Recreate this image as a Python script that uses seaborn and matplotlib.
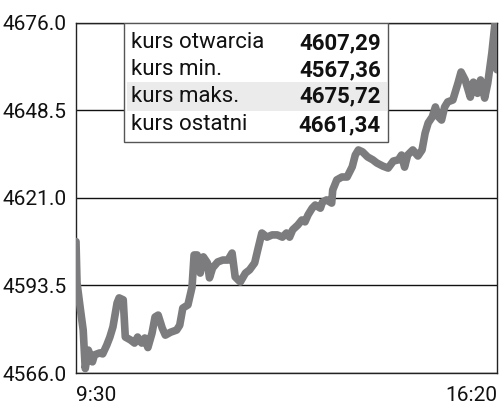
import numpy as np
import pandas as pd
import matplotlib
matplotlib.use('Agg')
import matplotlib.pyplot as plt
import seaborn as sns
from matplotlib.patches import Rectangle

# minutes after 9:30 and index value
minutes = [0, 1, 4, 7, 9, 12, 16, 18, 23, 26, 30, 33, 36, 40, 42, 46, 48, 53, 57, 60,
           64, 67, 70, 74, 77, 80, 84, 87, 92, 98, 101, 104, 109, 113, 115, 118, 121, 124,
           128, 130, 133, 138, 143, 148, 152, 155, 160, 165, 169, 174, 177, 181, 186, 191,
           196, 201, 205, 208, 211, 216, 220, 223, 226, 230, 233, 238, 240, 244, 249, 250,
           254, 259, 264, 269, 272, 275, 279, 284, 289, 293, 299, 304, 309, 314, 317, 320,
           323, 328, 333, 337, 340, 343, 347, 350, 353, 356, 359, 362, 367, 372, 375, 379,
           384, 387, 391, 394, 398, 401, 405, 408, 410]
kurs = [4607.3, 4594.3, 4586.7, 4579.5, 4567.4, 4573.2, 4569.5, 4571.7, 4572.3, 4572.0,
        4574.8, 4577.3, 4580.5, 4588.0, 4589.6, 4589.0, 4577.3, 4576.4, 4575.4, 4577.3,
        4575.4, 4577.0, 4574.0, 4578.5, 4583.6, 4584.2, 4580.1, 4577.9, 4578.8, 4579.5,
        4581.0, 4586.4, 4587.4, 4593.0, 4603.1, 4603.1, 4597.4, 4602.5, 4600.6, 4595.9,
        4599.0, 4600.9, 4601.5, 4601.5, 4603.7, 4596.2, 4594.6, 4597.4, 4598.4, 4600.6,
        4604.7, 4610.0, 4608.7, 4609.4, 4609.4, 4608.7, 4610.0, 4608.7, 4611.0, 4612.5,
        4614.1, 4613.5, 4615.7, 4617.8, 4618.8, 4617.8, 4619.7, 4620.4, 4619.4, 4623.5,
        4626.7, 4627.6, 4627.6, 4630.8, 4634.5, 4636.1, 4635.5, 4633.9, 4633.0, 4632.0,
        4631.0, 4630.4, 4632.6, 4633.0, 4634.5, 4630.7, 4634.5, 4636.1, 4634.2, 4636.1,
        4641.4, 4644.6, 4646.5, 4649.6, 4646.5, 4645.5, 4649.6, 4651.2, 4651.8, 4657.1,
        4660.6, 4658.1, 4652.7, 4657.4, 4653.9, 4658.1, 4652.4, 4657.1, 4666.6, 4675.7,
        4661.3]

y_ticks = [4566.0, 4593.5, 4621.0, 4648.5, 4676.0]
x_ticks = [0, 410]
x_labels = ['9:30', '16:20']

stat_names = ['kurs otwarcia', 'kurs min.', 'kurs maks.', 'kurs ostatni']
stat_values = ['4607,29', '4567,36', '4675,72', '4661,34']

sns.set_style('white')
plt.rcParams['font.family'] = ['Roboto', 'DejaVu Sans']

df = pd.DataFrame({'t': minutes, 'kurs': kurs})

fig = plt.figure(figsize=(5, 4.15), dpi=100)
ax = fig.add_axes([0.152, 0.1012, 0.842, 0.8434])

sns.lineplot(data=df, x='t', y='kurs', ax=ax, color='#7c7c7e', linewidth=5.5,
             solid_joinstyle='round', solid_capstyle='round', zorder=3)

ax.set_xlim(0, 410)
ax.set_ylim(4566, 4676)
ax.set_yticks(y_ticks)
ax.set_yticklabels(['%.1f' % v for v in y_ticks])
ax.set_xticks(x_ticks)
ax.set_xticklabels(x_labels)
ax.set_xlabel('')
ax.set_ylabel('')
for v in y_ticks:
    ax.axhline(v, color='#111111', linewidth=1, zorder=1)

for lbl, ha in zip(ax.get_xticklabels(), ['left', 'right']):
    lbl.set_horizontalalignment(ha)
ax.tick_params(axis='both', length=0, labelsize=15, colors='#111111')
ax.tick_params(axis='y', pad=7)
ax.tick_params(axis='x', pad=9)

for side in ['left', 'right', 'bottom', 'top']:
    ax.spines[side].set_visible(True)
    ax.spines[side].set_color('#222222')
    ax.spines[side].set_linewidth(1)

# summary box
ax.add_patch(Rectangle((0.114, 0.66), 0.627, 0.34, transform=ax.transAxes,
                       facecolor='white', edgecolor='#555555', linewidth=1, zorder=4))
ax.add_patch(Rectangle((0.121, 0.749), 0.618, 0.082, transform=ax.transAxes,
                       facecolor='#ebebeb', edgecolor='none', zorder=5))
row_y = [0.943, 0.866, 0.789, 0.709]
for name, val, ry in zip(stat_names, stat_values, row_y):
    ax.text(0.131, ry, name, transform=ax.transAxes, fontsize=16, color='#111111',
            va='center', ha='left', zorder=6)
    ax.text(0.724, ry, val, transform=ax.transAxes, fontsize=16, fontweight='bold',
            color='#111111', va='center', ha='right', zorder=6)

fig.savefig('out.png', dpi=100)
